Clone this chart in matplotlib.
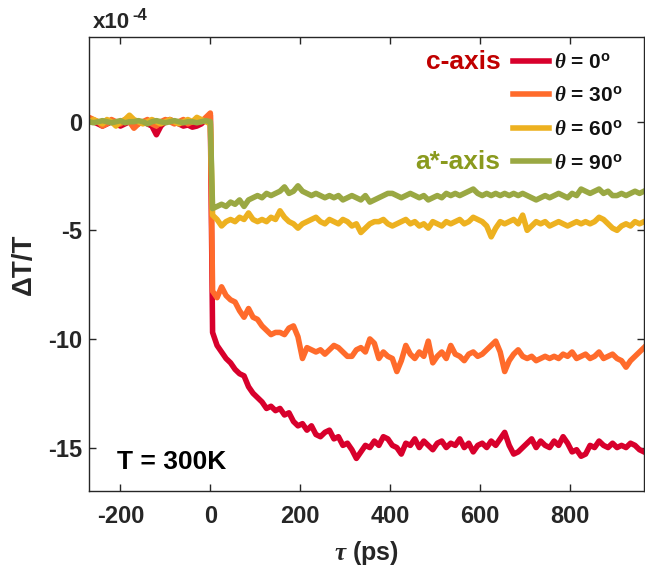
import numpy as np
import matplotlib
matplotlib.use("Agg")
import matplotlib.pyplot as plt

plt.rcParams['font.family'] = ['Liberation Sans', 'DejaVu Sans']
plt.rcParams['font.weight'] = 'bold'
plt.rcParams['axes.unicode_minus'] = False
plt.rcParams['mathtext.fontset'] = 'custom'
plt.rcParams['mathtext.rm'] = 'Liberation Sans:bold'
plt.rcParams['mathtext.bf'] = 'Liberation Sans:bold'
plt.rcParams['mathtext.it'] = 'Liberation Serif:italic'

# ---- data (Delta T / T in units of 1e-4) ----
tau_pre = np.arange(-270, 1, 10)      # ps, before time zero
tau_post = np.arange(5, 975, 10)      # ps, after time zero

red_pre = [0.1, 0.0, -0.1, -0.2, -0.1, 0.0, -0.1, -0.2, -0.1, 0.0,
           0.05, -0.1, 0.0, -0.1, -0.2, -0.6, -0.2, 0.0, 0.1, 0.0,
           -0.1, -0.2, -0.15, -0.25, -0.2, -0.1, 0.1, 0.3]
orange_pre = [0.2, 0.1, 0.0, -0.2, -0.1, 0.1, 0.0, -0.1, 0.1, 0.0,
              -0.3, -0.1, 0.0, 0.1, -0.1, -0.2, 0.0, 0.1, 0.0, -0.1,
              0.0, 0.1, -0.1, 0.0, 0.1, 0.0, 0.2, 0.4]
yellow_pre = [0.0, 0.1, 0.0, -0.1, 0.1, 0.0, -0.2, 0.0, 0.1, 0.3,
              0.1, 0.0, -0.1, 0.0, 0.1, 0.0, -0.1, 0.0, 0.1, 0.0,
              -0.1, 0.0, 0.1, 0.0, 0.2, 0.1, 0.0, -0.1]
green_pre = [0.0, -0.05, 0.0, 0.05, 0.0, -0.05, 0.0, 0.05, -0.05, 0.0,
             0.0, 0.05, 0.0, -0.1, 0.0, 0.05, 0.0, -0.05, 0.0, 0.05,
             0.0, -0.05, 0.0, 0.0, -0.05, 0.0, 0.05, 0.0]

red_post = [-9.7, -10.3, -10.6, -10.9, -11.1, -11.4, -11.6, -11.7, -12.2, -12.5,
            -12.7, -12.9, -13.2, -13.1, -13.3, -13.2, -13.5, -13.4, -13.8, -14.0,
            -13.9, -14.2, -14.0, -14.4, -14.5, -14.3, -14.2, -14.6, -14.5, -14.9,
            -14.8, -15.1, -15.5, -15.2, -14.9, -15.0, -14.7, -14.9, -14.5, -14.6,
            -14.9, -15.0, -15.3, -14.8, -14.9, -14.6, -15.0, -14.7, -14.9, -15.1,
            -14.8, -14.7, -15.0, -14.8, -14.9, -14.6, -15.0, -14.8, -15.2, -14.9,
            -14.8, -15.0, -14.7, -14.9, -14.6, -14.3, -14.9, -15.3, -15.2, -15.0,
            -14.8, -14.6, -15.0, -14.7, -14.9, -15.0, -14.7, -14.9, -14.5, -14.8,
            -15.2, -15.1, -15.4, -15.3, -14.9, -15.0, -14.7, -14.9, -15.0, -14.8,
            -15.0, -14.9, -15.0, -14.8, -14.9, -15.1, -15.2]
orange_post = [-7.8, -8.1, -7.6, -8.0, -8.2, -8.3, -8.7, -9.0, -8.6, -9.0,
               -9.1, -9.4, -9.6, -9.8, -9.7, -9.7, -9.8, -9.5, -9.4, -9.9,
               -10.9, -10.4, -10.5, -10.6, -10.5, -10.7, -10.5, -10.3, -10.4, -10.6,
               -10.8, -10.8, -10.5, -10.4, -10.6, -10.0, -10.2, -10.9, -10.6, -10.8,
               -10.9, -11.5, -11.0, -10.3, -10.7, -10.9, -10.6, -10.8, -10.1, -11.1,
               -10.8, -10.6, -10.9, -10.3, -10.7, -10.8, -11.0, -10.7, -10.6, -10.8,
               -10.7, -10.5, -10.3, -10.1, -10.6, -11.5, -11.0, -10.7, -10.5, -10.8,
               -10.9, -10.8, -11.0, -10.9, -10.8, -10.9, -10.8, -10.9, -10.7, -10.8,
               -10.6, -10.9, -10.8, -10.7, -10.9, -10.8, -10.6, -10.9, -10.8, -10.7,
               -10.9, -11.0, -11.3, -11.0, -10.8, -10.6, -10.4]
yellow_post = [-4.3, -4.5, -4.8, -4.6, -4.5, -4.6, -4.4, -4.5, -4.2, -4.5,
               -4.6, -4.5, -4.6, -4.4, -4.5, -4.1, -4.4, -4.6, -4.7, -4.9,
               -4.7, -4.6, -4.5, -4.4, -4.6, -4.7, -4.5, -4.6, -4.7, -4.5,
               -4.6, -4.8, -4.7, -5.1, -4.9, -4.7, -4.6, -4.6, -4.5, -4.7,
               -4.8, -4.7, -4.6, -4.5, -4.7, -4.6, -4.8, -4.7, -4.9, -4.6,
               -4.7, -4.8, -4.6, -4.7, -4.6, -4.5, -4.7, -4.6, -4.4, -4.5,
               -4.6, -4.8, -5.3, -4.9, -4.6, -4.7, -4.6, -4.5, -4.7, -4.3,
               -5.0, -4.8, -4.6, -4.7, -4.6, -4.8, -4.7, -4.6, -4.7, -4.8,
               -4.7, -4.6, -4.7, -4.6, -4.7, -4.6, -4.4, -4.5, -4.7, -4.9,
               -5.0, -4.8, -4.7, -4.8, -4.6, -4.7, -4.6]
green_post = [-4.0, -3.9, -3.8, -3.9, -3.7, -3.8, -3.6, -3.9, -3.6, -3.5,
              -3.4, -3.5, -3.3, -3.4, -3.3, -3.2, -3.0, -3.3, -3.2, -2.95,
              -3.2, -3.3, -3.4, -3.3, -3.4, -3.5, -3.4, -3.5, -3.4, -3.6,
              -3.5, -3.4, -3.5, -3.6, -3.4, -3.7, -3.6, -3.5, -3.4, -3.3,
              -3.3, -3.4, -3.5, -3.4, -3.3, -3.4, -3.5, -3.4, -3.6, -3.5,
              -3.4, -3.5, -3.3, -3.4, -3.3, -3.4, -3.3, -3.2, -3.1, -3.3,
              -3.4, -3.3, -3.4, -3.3, -3.4, -3.3, -3.4, -3.3, -3.4, -3.3,
              -3.4, -3.5, -3.6, -3.5, -3.4, -3.5, -3.4, -3.3, -3.4, -3.5,
              -3.3, -3.4, -3.1, -3.2, -3.3, -3.2, -3.1, -3.3, -3.2, -3.4,
              -3.4, -3.3, -3.4, -3.3, -3.2, -3.3, -3.2]

angles = [0, 30, 60, 90]
colors = ['#D8002C', '#FF6B2B', '#EDB120', '#9AA843']
xticks = [-200, 0, 200, 400, 600, 800]
yticks = [-15, -10, -5, 0]

tau = np.concatenate([tau_pre, tau_post])
series = [red_pre + red_post, orange_pre + orange_post,
          yellow_pre + yellow_post, green_pre + green_post]

fig = plt.figure(figsize=(6.45, 5.73), dpi=100)
ax = fig.add_axes([89/645, 82/573, 555/645, 454/573])

handles = []
for ang, col, vals in zip(angles, colors, series):
    h, = ax.plot(tau, vals, color=col, lw=4.0, solid_joinstyle='round',
                 label=r'$\theta$ = %d$^{\mathrm{o}}$' % ang)
    handles.append(h)

ax.set_xlim(-270, 965)
ax.set_ylim(-17, 3.9)
ax.set_xticks(xticks)
ax.set_yticks(yticks)
ax.tick_params(direction='in', length=5, width=1, top=True, right=True,
               labelsize=17, colors='#262626')
ax.tick_params(axis='y', pad=5)
ax.tick_params(axis='x', pad=10)
for lab in ax.get_xticklabels() + ax.get_yticklabels():
    lab.set_fontweight('bold')
for sp in ax.spines.values():
    sp.set_color('#262626')
    sp.set_linewidth(1.0)

ax.set_xlabel(r'$\tau$ (ps)', fontsize=18, fontweight='bold', color='#262626', labelpad=8)
ax.set_ylabel('ΔT/T', fontsize=20, fontweight='bold', color='#262626', labelpad=8)

leg = ax.legend(handles=handles, loc='upper left', bbox_to_anchor=(0.764, 0.965),
                frameon=False, fontsize=15, handlelength=1.75, handletextpad=0.2,
                labelspacing=0.70, borderpad=0, borderaxespad=0)
for t in leg.get_texts():
    t.set_color('#111111')

ax.text(646, 2.75, 'c-axis', color='#C00000', fontsize=19, fontweight='bold',
        ha='right', va='center')
ax.text(646, -1.84, 'a*-axis', color='#8A9A1E', fontsize=19, fontweight='bold',
        ha='right', va='center')
ax.text(-207, -15.65, 'T = 300K', color='black', fontsize=19, fontweight='bold',
        ha='left', va='center')
base = fig.text(93/645, 1 - 22/573, 'x10', fontsize=16, fontweight='bold',
                color='#262626', ha='left', va='center')
ax.annotate('-4', xy=(1.0, 0.45), xycoords=base, xytext=(1.5, 0),
            textcoords='offset points', fontsize=12, fontweight='bold',
            color='#262626', ha='left', va='bottom', annotation_clip=False)

fig.savefig('out.png', dpi=100)
